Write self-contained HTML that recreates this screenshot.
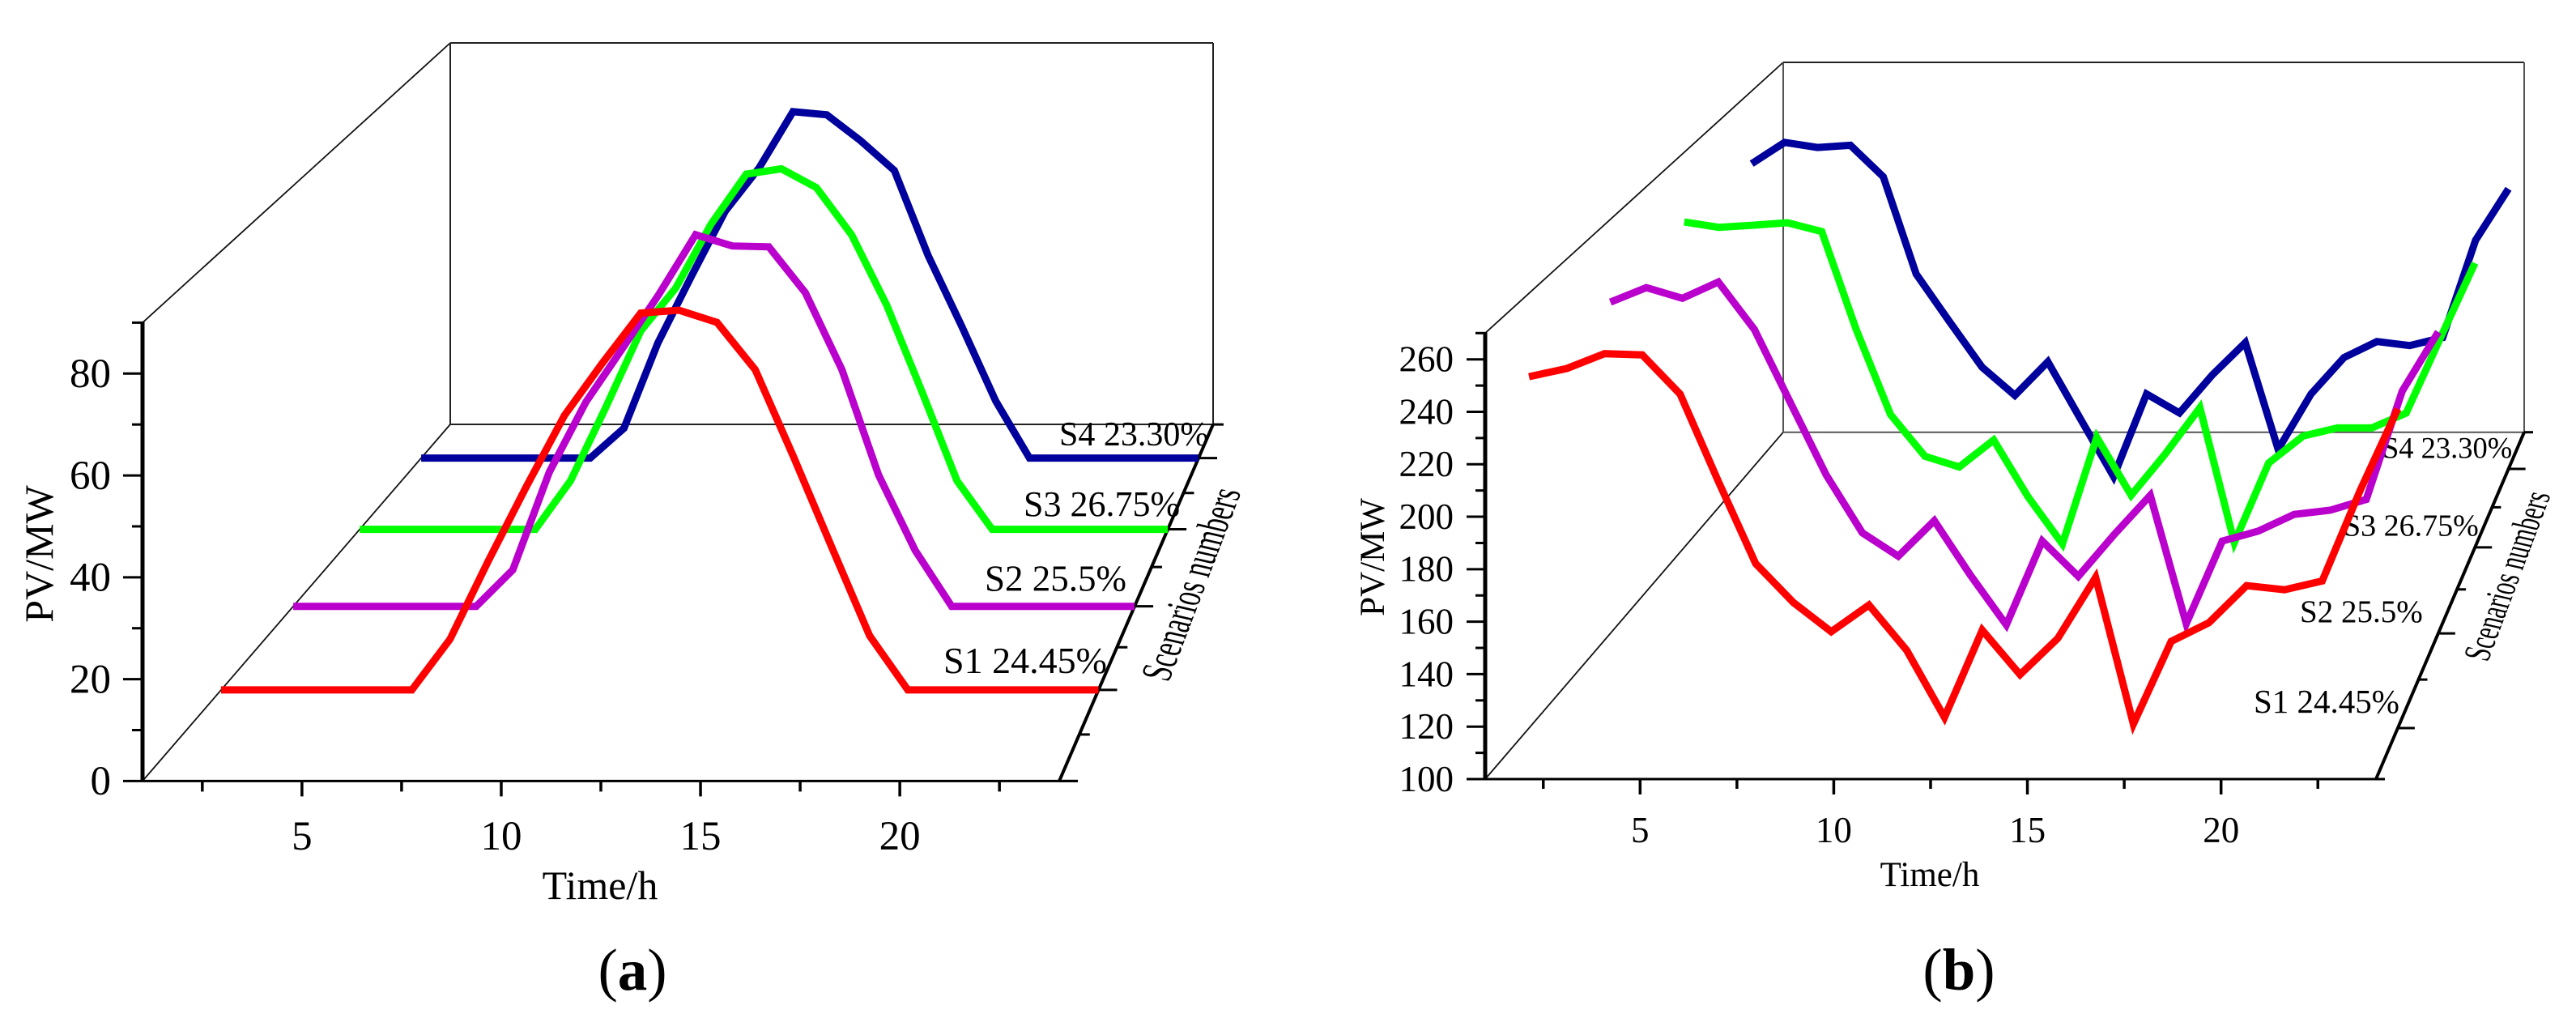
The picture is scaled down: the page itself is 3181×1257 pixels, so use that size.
<!DOCTYPE html>
<html lang="en">
<head>
<meta charset="utf-8">
<title>PV output scenarios</title>
<style>
html,body{margin:0;padding:0;background:#fff;width:3181px;height:1257px;overflow:hidden}
svg{display:block}
text{font-family:"Liberation Serif","Times New Roman",serif;fill:#000}
</style>
</head>
<body>
<svg id="figure" xmlns="http://www.w3.org/2000/svg" width="3181" height="1257" viewBox="0 0 3181 1257"></svg>
<script>
// ---------- shared categories ----------
const hours = [1,2,3,4,5,6,7,8,9,10,11,12,13,14,15,16,17,18,19,20,21,22,23,24];
const scenarioNames = ["S1","S2","S3","S4"];
const scenarioLabels = ["S1 24.45%","S2 25.5%","S3 26.75%","S4 23.30%"];
const scenarioColors = ["#ff0000","#b900cc","#00ff00","#00009c"];

// ---------- panel (a) values, MW ----------
const panelAS1 = [0,0,0,0,0,0,10.4,26.4,41.7,56.3,67.1,77.3,77.9,75.4,65.7,47.9,29.4,11.1,0,0,0,0,0,0];
const panelAS2 = [0,0,0,0,0,0,7.8,28.7,43.7,55.2,66.8,79.5,77.1,76.9,67.1,50.6,28.1,12,0,0,0,0,0,0];
const panelAS3 = [0,0,0,0,0,0,10.8,27.1,44.2,53.8,68,79.1,80.3,76.1,65.6,49.9,30.7,10.8,0,0,0,0,0,0];
const panelAS4 = [0,0,0,0,0,0,6.9,26.6,42.2,57.2,67.2,80.2,79.5,73.5,66.6,46.9,30.4,13.2,0,0,0,0,0,0];
const panelAValueTicks = [0,20,40,60,80];
const panelAValueMinor = [10,30,50,70,90];
const panelATimeTicks = [5,10,15,20];
const panelATimeMinor = [2.5,7.5,12.5,17.5,22.5];

// ---------- panel (b) values, MW ----------
const panelBS1 = [237.4,240.6,246.4,245.9,230.6,196.9,164.3,149.1,137.7,148.1,130.4,104.2,138.3,120.9,135.1,158.9,101.6,133.9,141.2,155.7,154.1,157.5,192.8,224.8];
const panelBS2 = [236,242,237.6,244.3,224.8,194.8,165,141.3,131.7,146.3,124,103.5,137.9,123.4,140.6,156.7,104,137.9,142,148.9,150.6,155,199.5,223.8];
const panelBS3 = [240,237.7,238.6,239.7,235.9,193.8,157.2,139.2,134.6,146.2,121.8,101.5,147.4,122.4,140.4,160.1,102.1,136.3,147.9,151.4,151.4,157.8,190.3,222.3];
const panelBS4 = [237.3,246.9,244.6,245.6,231.4,187.7,166.5,145.8,133.1,148.2,122.3,96.6,133.7,125.2,142.3,156.8,108.8,133.7,150.1,157.3,155.5,159.1,202.9,226];
const panelBValueTicks = [100,120,140,160,180,200,220,240,260];
const panelBValueMinor = [110,130,150,170,190,210,230,250,270];
const panelBTimeTicks = [5,10,15,20];
const panelBTimeMinor = [2.5,7.5,12.5,17.5,22.5];

// ---------- scenario axis ticks ----------
const panelADepthMajor = [0,1,2,3,4];
const panelADepthMinor = [0.5,1.5,2.5,3.5,4.5];
const panelBDepthMajor = [1,2,3,4];
const panelBDepthMinor = [0.5,1.5,2.5,3.5,4.5];

const NS = "http://www.w3.org/2000/svg";
const root = document.getElementById("figure");

function make(tag, name, attrs, parent) {
  const node = document.createElementNS(NS, tag);
  
  
  for (const key in attrs) node.setAttribute(key, attrs[key]);
  parent.appendChild(node);
  return node;
}
function line(name, x1, y1, x2, y2, w, color, parent) {
  return make("line", name, {x1:x1, y1:y1, x2:x2, y2:y2, stroke:color, "stroke-width":w}, parent);
}
function label(name, str, x, y, size, anchor, parent, extra) {
  const t = make("text", name, Object.assign({x:x, y:y, "font-size":size, "text-anchor":anchor}, extra || {}), parent);
  t.textContent = str;
  return t;
}

function drawPanel(cfg) {
  const g = make("g", cfg.id, {}, root);
  // axis functions
  const depth = s => { const k = s * cfg.depthK + cfg.depthK0; return k * cfg.depthA / (1 + k * cfg.depthB); };
  const xAt = (t, d) => { const l = cfg.xL + cfg.xLd * d, r = cfg.xR + cfg.xRd * d; return l + (t - 1) / 23 * (r - l); };
  const baseY = d => cfg.y0 - cfg.floor * d;
  const yAt = (v, d) => baseY(d) - (v - cfg.vMin) / (cfg.vMax - cfg.vMin) * (cfg.h - cfg.hd * d);

  // walls
  const wall = make("g", "back-walls", {}, g);
  const d1 = 1;
  const backL = xAt(1, d1), backR = xAt(24, d1), backB = baseY(d1), backT = yAt(cfg.vMax, d1);
  line("left-wall-top-edge", xAt(1,0), yAt(cfg.vMax,0), backL, backT, 1.8, "#111", wall);
  line("left-wall-floor-edge", xAt(1,0), baseY(0), backL, backB, 1.8, "#111", wall);
  line("back-wall-left-edge", backL, backT, backL, backB, 2, cfg.wallColor, wall);
  line("back-wall-top-edge", backL, backT, backR, backT, 2, "#222", wall);
  line("back-wall-right-edge", backR, backT, backR, backB, 2, cfg.wallColor, wall);
  line("back-wall-bottom-edge", backL, backB, backR, backB, 2, cfg.wallColor, wall);

  // scenario labels sit behind the curves
  const labelGroup = make("g", "scenario-labels", {}, g);
  scenarioLabels.forEach((str, i) => {
    label("scenario-label-" + scenarioNames[i].toLowerCase(), str, cfg.labelX[i], cfg.labelY[i], cfg.labelSize[i], "start", labelGroup);
  });

  // value axis
  const yAxis = make("g", "value-axis", {}, g);
  line("value-axis-line", xAt(1,0), yAt(cfg.vMax,0) - 1, xAt(1,0), baseY(0) + 1, 5, "#000", yAxis);
  cfg.valueTicks.forEach(v => {
    line("value-tick-" + v, xAt(1,0) - cfg.yMajor, yAt(v,0), xAt(1,0), yAt(v,0), 3, "#000", yAxis);
    label("value-label-" + v, String(v), cfg.yLabelX, yAt(v,0) + cfg.tickSize * 0.33, cfg.tickSize, "end", yAxis);
  });
  cfg.valueMinor.forEach(v => {
    line("value-minor-tick-" + v, xAt(1,0) - cfg.yMinor, yAt(v,0), xAt(1,0), yAt(v,0), 3, "#000", yAxis);
  });

  // time axis
  const xAxis = make("g", "time-axis", {}, g);
  line("time-axis-line", xAt(1,0), baseY(0), xAt(24,0) + cfg.xOver, baseY(0), 3, "#000", xAxis);
  cfg.timeTicks.forEach(t => {
    line("time-tick-" + t, xAt(t,0), baseY(0), xAt(t,0), baseY(0) + cfg.xMajor, 3.5, "#000", xAxis);
    label("time-label-" + t, String(t), xAt(t,0), cfg.xLabelY, cfg.tickSize, "middle", xAxis);
  });
  cfg.timeMinor.forEach(t => {
    line("time-minor-tick-" + t, xAt(t,0), baseY(0), xAt(t,0), baseY(0) + cfg.xMinor, 3.5, "#000", xAxis);
  });

  // scenario axis
  const zAxis = make("g", "scenario-axis", {}, g);
  line("scenario-axis-line", xAt(24,0), baseY(0), xAt(24,1), baseY(1), 4, "#000", zAxis);
  cfg.depthMajor.forEach(s => {
    const d = depth(s);
    line("scenario-tick-" + s, xAt(24,d), baseY(d), xAt(24,d) + cfg.zMajor, baseY(d), 3, "#000", zAxis);
  });
  cfg.depthMinor.forEach(s => {
    const d = depth(s);
    line("scenario-minor-tick-" + s, xAt(24,d), baseY(d), xAt(24,d) + cfg.zMinor, baseY(d), 3, "#000", zAxis);
  });

  // series, back to front
  const seriesGroup = make("g", "series", {}, g);
  for (let i = cfg.series.length - 1; i >= 0; i--) {
    const d = depth(i + 1);
    const pts = cfg.series[i].map((v, j) => xAt(hours[j], d).toFixed(1) + "," + yAt(v, d).toFixed(1)).join(" ");
    make("polyline", "series-" + scenarioNames[i].toLowerCase(), {
      points: pts, fill: "none", stroke: scenarioColors[i], "stroke-width": cfg.lineW,
      "stroke-linejoin": "miter", "stroke-linecap": "butt"
    }, seriesGroup);
  }

  // titles
  label("time-axis-title", "Time/h", cfg.xTitle[0], cfg.xTitle[1], cfg.titleSize, "middle", g);
  label("value-axis-title", "PV/MW", 0, 0, cfg.titleSize, "middle", g,
        {transform: "translate(" + cfg.yTitle[0] + "," + cfg.yTitle[1] + ") rotate(-90)"});
  label("scenario-axis-title", "Scenarios numbers", 0, 0, 40, "start", g,
        {transform: "matrix(" + cfg.zTitle.join(" ") + ")"});
  const cap = make("text", "panel-caption", {x: cfg.caption[0], y: cfg.caption[1], "font-size": 73, "text-anchor": "middle"}, g);
  const open = make("tspan", "caption-open-paren", {}, cap);
  open.textContent = "(";
  const letter = make("tspan", "caption-letter", {"font-weight": "bold"}, cap);
  letter.textContent = cfg.letter;
  const close = make("tspan", "caption-close-paren", {}, cap);
  close.textContent = ")";
}

drawPanel({
  id: "panel-a", letter: "a", series: [panelAS1, panelAS2, panelAS3, panelAS4],
  valueTicks: panelAValueTicks, valueMinor: panelAValueMinor,
  timeTicks: panelATimeTicks, timeMinor: panelATimeMinor,
  depthMajor: panelADepthMajor, depthMinor: panelADepthMinor,
  vMin: 0, vMax: 90,
  xL: 176, xLd: 380, xR: 1308, xRd: 190, y0: 964.4, floor: 440.4, h: 566, hd: 95,
  depthK: 2, depthK0: 0, depthA: 0.1334, depthB: 0.02233,
  yMajor: 24, yMinor: 13, xMajor: 19, xMinor: 13, xOver: 23, zMajor: 23, zMinor: 13,
  yLabelX: 137, xLabelY: 1049, tickSize: 51, titleSize: 50,
  labelX: [1165, 1216, 1264, 1308], labelY: [831, 729.5, 637, 550], labelSize: [46, 45, 44, 42],
  xTitle: [741, 1110], yTitle: [65, 684], zTitle: [0.296, -0.777, 1.3, 0.3, 1443, 843],
  caption: [781, 1222], wallColor: "#222", lineW: 9
});

drawPanel({
  id: "panel-b", letter: "b", series: [panelBS1, panelBS2, panelBS3, panelBS4],
  valueTicks: panelBValueTicks, valueMinor: panelBValueMinor,
  timeTicks: panelBTimeTicks, timeMinor: panelBTimeMinor,
  depthMajor: panelBDepthMajor, depthMinor: panelBDepthMinor,
  vMin: 100, vMax: 270,
  xL: 1834, xLd: 368, xR: 2934, xRd: 183, y0: 962, floor: 428.3, h: 550.7, hd: 94,
  depthK: 2, depthK0: -1, depthA: 0.15086, depthB: 0.02586,
  yMajor: 23, yMinor: 12, xMajor: 19, xMinor: 12, xOver: 8, zMajor: 21, zMinor: 11,
  yLabelX: 1795, xLabelY: 1040, tickSize: 45, titleSize: 43,
  labelX: [2783, 2840, 2894, 2942], labelY: [880, 768, 661.7, 565.7], labelSize: [41, 39, 38, 36.5],
  xTitle: [2383, 1094], yTitle: [1709, 688], zTitle: [0.257, -0.683, 1.14, 0.26, 3072, 818],
  caption: [2419, 1222], wallColor: "#555", lineW: 9
});
</script>
</body>
</html>
